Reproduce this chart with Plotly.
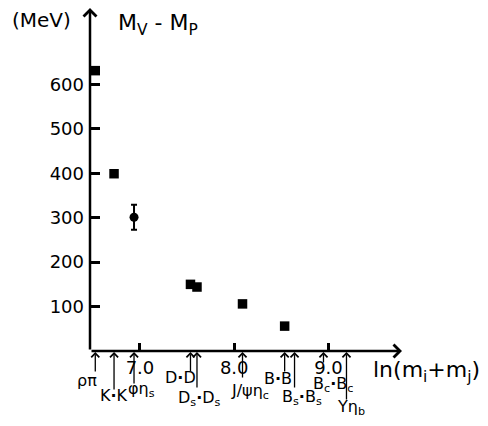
import plotly.graph_objects as go

# ---- data ----
pair_labels = ["ρπ", "K<b>·</b>K", "φη<sub>s</sub>", "D<b>·</b>D", "D<sub>s</sub><b>·</b>D<sub>s</sub>",
               "J/ψη<sub>c</sub>", "B<b>·</b>B", "B<sub>s</sub><b>·</b>B<sub>s</sub>",
               "B<sub>c</sub><b>·</b>B<sub>c</sub>", "Υη<sub>b</sub>"]
ln_mass = [6.526, 6.725, 6.937, 7.536, 7.605, 8.088, 8.535, 8.640, 8.947, 9.191]
splitting = [631, 399, 301, 150, 144, 106, 56, None, None, None]
split_err = [0, 0, 28, 0, 0, 0, 0, 0, 0, 0]
marker_kind = ["square", "square", "circle", "square", "square", "square", "square", None, None, None]
x_ticks = [7.0, 8.0, 9.0]
x_tick_text = ["7.0", "8.0", "9.0"]
y_ticks = [100, 200, 300, 400, 500, 600]
y_tick_text = ["100", "200", "300", "400", "500", "600"]

# ---- styles / layout constants ----
FONT = "DejaVu Sans"
XR = [6.47, 9.78]
YR = [0, 772]
arrow_len = [22, 40, 34, 22, 38, 28, 22, 38, 13, 50]
label_dx = [-8, 0, 7, -9.5, 3, 7, -6.7, 7.5, 9.5, 4.5]
label_dy = [-29.5, -44.5, -38.5, -26.5, -47.5, -40.5, -27.5, -46.5, -33.5, -56.5]

fig = go.Figure()

sq_x = [x for x, v, k in zip(ln_mass, splitting, marker_kind) if v is not None and k == "square"]
sq_y = [v for v, k in zip(splitting, marker_kind) if v is not None and k == "square"]
fig.add_trace(go.Scatter(x=sq_x, y=sq_y, mode="markers",
                         marker=dict(symbol="square", size=9.5, color="black"),
                         cliponaxis=False, showlegend=False, hoverinfo="skip"))
c_x = [x for x, v, k in zip(ln_mass, splitting, marker_kind) if k == "circle"]
c_y = [v for v, k in zip(splitting, marker_kind) if k == "circle"]
c_e = [e for e, k in zip(split_err, marker_kind) if k == "circle"]
fig.add_trace(go.Scatter(x=c_x, y=c_y, mode="markers",
                         marker=dict(symbol="circle", size=9, color="black"),
                         error_y=dict(type="data", array=c_e, visible=True,
                                      thickness=2, width=3, color="black"),
                         cliponaxis=False, showlegend=False, hoverinfo="skip"))

ann = []
ann.append(dict(x=XR[1], y=0, ax=XR[0], ay=0, xref="x", yref="y", axref="x", ayref="y",
                showarrow=True, arrowhead=4, arrowsize=1, arrowwidth=2.5,
                arrowcolor="black", standoff=0, text=""))
ann.append(dict(x=XR[0], y=YR[1], ax=XR[0], ay=0, xref="x", yref="y", axref="x", ayref="y",
                showarrow=True, arrowhead=4, arrowsize=1, arrowwidth=2.5,
                arrowcolor="black", standoff=0, text=""))

for lab, x, L, dx, dy in zip(pair_labels, ln_mass, arrow_len, label_dx, label_dy):
    ann.append(dict(x=x, y=0, ax=0, ay=L, xref="x", yref="y",
                    showarrow=True, arrowhead=4, arrowsize=1.2, arrowwidth=1.3,
                    arrowcolor="black", standoff=1, text=""))
    ann.append(dict(x=x, y=0, xref="x", yref="y", showarrow=False, text=lab,
                    xshift=dx, yshift=dy, font=dict(family=FONT, size=16, color="black")))

ann.append(dict(x=0.083, y=1.0, xref="paper", yref="paper", xanchor="left", yanchor="top",
                showarrow=False, text="M<sub>V</sub> - M<sub>P</sub>",
                font=dict(family=FONT, size=22, color="black")))
ann.append(dict(x=-0.155, y=0.965, xref="paper", yref="paper", xanchor="center", yanchor="middle",
                showarrow=False, text="(MeV)",
                font=dict(family=FONT, size=20, color="black")))
ann.append(dict(x=0.9, y=-0.06, xref="paper", yref="paper", xanchor="left", yanchor="middle",
                showarrow=False, text="ln(m<sub>i</sub>+m<sub>j</sub>)",
                font=dict(family=FONT, size=22, color="black")))

fig.update_layout(
    width=488, height=426,
    margin=dict(l=90, r=86, t=8, b=75, autoexpand=False),
    paper_bgcolor="white", plot_bgcolor="white",
    showlegend=False,
    annotations=ann,
    font=dict(family=FONT, color="black"),
    xaxis=dict(range=XR, showgrid=False, zeroline=False, showline=False, automargin=False,
               tickvals=x_ticks, ticktext=x_tick_text, ticks="inside",
               ticklen=8, tickwidth=2.5, tickcolor="black",
               tickfont=dict(family=FONT, size=18, color="black"),
               ticklabelstandoff=4),
    yaxis=dict(range=YR, showgrid=False, zeroline=False, showline=False, automargin=False,
               tickvals=y_ticks, ticktext=y_tick_text, ticks="inside",
               ticklen=10, tickwidth=2.5, tickcolor="black",
               tickfont=dict(family=FONT, size=18, color="black"),
               ticklabelstandoff=5),
)

fig.write_html("out.html", config={"displayModeBar": False},
               post_script="document.body.style.margin='0';document.body.style.overflow='hidden';")
